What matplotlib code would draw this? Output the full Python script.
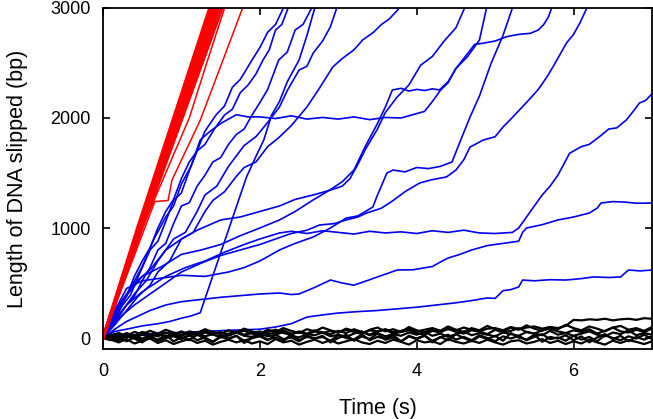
import numpy as np
import matplotlib
matplotlib.use("Agg")
import matplotlib.pyplot as plt

plt.rcParams['font.family'] = ['Liberation Sans', 'DejaVu Sans']

# --- data (time in s, length in bp) ---
# thick red bundle: time at which each trace reaches 0, 1000, 2000, 3000 bp
red_levels = [0, 1000, 2000, 3000]
red_times = [
    [0, 0.44, 0.90, 1.36],
    [0, 0.45, 0.92, 1.38],
    [0, 0.46, 0.93, 1.40],
    [0, 0.47, 0.95, 1.42],
    [0, 0.48, 0.97, 1.45],
    [0, 0.49, 0.99, 1.48],
    [0, 0.50, 1.01, 1.52],
]
red_thin = [
    ([0, 0.5, 1.1, 1.3, 1.55], [0, 1000, 2000, 2450, 3000]),
    ([0, 0.66, 0.83, 0.88, 1.24, 1.53, 1.78], [0, 1240, 1250, 1436, 1980, 2527, 3000]),
]

blue_traces = {
    "a0": ([0, 0.1, 0.2, 0.3, 0.4, 0.5, 0.6, 0.7, 0.8, 0.9, 1.0, 1.1, 1.2, 1.3, 1.44,
            1.55, 1.65, 1.75, 1.9, 2.0, 2.1, 2.2, 2.3],
           [0, 130, 280, 380, 560, 700, 820, 1000, 1150, 1260, 1450, 1600, 1700, 1880,
            2027, 2110, 2280, 2350, 2527, 2640, 2780, 2850, 3000]),
    "a": ([0, 0.1, 0.25, 0.35, 0.45, 0.6, 0.7, 0.8, 0.9, 1.0, 1.1, 1.2, 1.3, 1.42, 1.55,
           1.65, 1.75, 1.85, 1.95, 2.04, 2.12, 2.2, 2.28, 2.36],
          [0, 110, 300, 390, 560, 800, 880, 1060, 1250, 1320, 1520, 1700, 1760, 1900,
           2027, 2080, 2230, 2300, 2400, 2527, 2620, 2800, 2850, 3000]),
    "b": ([0, 0.15, 0.3, 0.4, 0.5, 0.6, 0.7, 0.8, 0.9, 1.0, 1.1, 1.2, 1.3, 1.4, 1.5, 1.6,
           1.7, 1.8, 1.9, 2.0, 2.1, 2.24, 2.35, 2.45, 2.55, 2.66],
          [0, 140, 300, 380, 520, 640, 800, 860, 1040, 1200, 1230, 1380, 1480, 1600, 1640,
           1760, 1850, 1900, 2027, 2140, 2260, 2527, 2600, 2800, 2850, 3000]),
    "c": ([0, 0.15, 0.3, 0.5, 0.7, 0.85, 1.0, 1.12, 1.24, 1.83, 1.95, 2.05, 2.15, 2.25,
           2.35, 2.5, 2.6, 2.7],
          [0, 60, 80, 110, 130, 150, 180, 200, 230, 1464, 1650, 1800, 2027, 2150, 2330,
           2527, 2750, 3000]),
    "d": ([0, 0.15, 0.3, 0.4, 0.55, 0.7, 0.9, 1.05, 1.2, 1.3, 1.45, 1.6, 1.8, 1.95, 2.1,
           2.25, 2.35, 2.5, 2.6, 2.68, 2.8, 2.9, 2.98],
          [0, 170, 300, 400, 520, 700, 900, 960, 1150, 1300, 1380, 1560, 1750, 1830, 1960,
           2100, 2250, 2436, 2470, 2590, 2700, 2830, 3000]),
    "e": ([0, 0.15, 0.3, 0.45, 0.6, 0.7, 0.85, 1.0, 1.15, 1.3, 1.4, 1.55, 1.7, 1.8, 1.95,
           2.1, 2.25, 2.4, 2.6, 2.75, 2.93, 3.05, 3.2, 3.31, 3.45, 3.55, 3.65, 3.78],
          [0, 120, 250, 380, 480, 600, 700, 900, 960, 1150, 1250, 1330, 1470, 1550, 1600,
           1740, 1827, 1930, 2100, 2260, 2464, 2540, 2620, 2709, 2780, 2850, 2900, 3000]),
    "f": ([0, 0.1, 0.2, 0.35, 0.5, 0.65, 0.8, 0.9, 1.0, 1.12, 1.24, 1.35, 1.5, 1.6, 1.7,
           1.85, 2.0, 2.2, 2.4, 2.6, 2.8, 3.0, 3.2, 3.4, 3.6, 3.8, 3.9, 4.0, 4.1, 4.2, 4.3,
           4.4, 4.5, 4.62, 4.74, 4.85, 5.0, 5.15, 5.3, 5.45, 5.55, 5.62, 5.68, 5.72],
          [0, 120, 250, 450, 650, 900, 1100, 1200, 1400, 1560, 1800, 1870, 1950, 1990,
           2030, 2010, 2010, 1995, 2020, 1990, 2005, 1990, 2010, 1985, 2005, 2000, 2020,
           2040, 2060, 2150, 2250, 2320, 2450, 2560, 2670, 2680, 2700, 2740, 2760, 2770,
           2800, 2850, 2920, 3000]),
    "g": ([0, 0.15, 0.3, 0.5, 0.8, 1.0, 1.3, 1.6, 1.8, 2.0, 2.25, 2.45, 2.68, 2.9, 3.1,
           3.25, 3.44, 3.5, 3.62, 3.7, 3.85, 4.0, 4.15, 4.3, 4.45, 4.55, 4.68, 4.8, 4.95,
           5.1, 5.22],
          [0, 250, 450, 520, 550, 570, 560, 600, 640, 700, 800, 860, 918, 1000, 1090,
           1110, 1190, 1300, 1500, 1527, 1510, 1550, 1540, 1560, 1600, 1780, 2009, 2200,
           2500, 2750, 3000]),
    "h": ([0, 0.15, 0.4, 0.6, 0.8, 1.0, 1.2, 1.5, 1.75, 2.0, 2.25, 2.45, 2.68, 2.9, 3.05,
           3.15, 3.25, 3.35, 3.5, 3.6, 3.75, 3.9, 4.05, 4.2, 4.35, 4.5, 4.61],
          [0, 250, 500, 620, 800, 900, 980, 1073, 1100, 1150, 1200, 1260, 1300, 1345,
           1380, 1450, 1580, 1720, 1900, 2050, 2190, 2300, 2480, 2560, 2700, 2820, 3000]),
    "k": ([0, 0.2, 0.5, 0.75, 1.0, 1.25, 1.5, 1.75, 2.0, 2.25, 2.45, 2.68, 2.89, 3.05,
           3.2, 3.35, 3.5, 3.6, 3.69, 3.8, 3.9, 4.0, 4.1, 4.2, 4.29, 4.4, 4.5, 4.65, 4.8,
           4.89],
          [0, 300, 560, 650, 760, 800, 850, 930, 1000, 1073, 1150, 1255, 1345, 1420, 1527,
           1750, 1950, 2100, 2255, 2270, 2245, 2260, 2250, 2265, 2255, 2330, 2450, 2560,
           2709, 3000]),
    "r6": ([0, 0.2, 0.4, 0.7, 1.0, 1.25, 1.5, 1.75, 2.0, 2.2, 2.4, 2.6, 2.76, 2.95, 3.1,
            3.25, 3.36, 3.55, 3.7, 3.85, 4.04, 4.2, 4.38, 4.5, 4.6, 4.68, 4.85, 5.0, 5.1,
            5.2, 5.31, 5.45, 5.55, 5.66, 5.75, 5.91, 6.0, 6.08, 6.17],
           [0, 180, 300, 450, 600, 680, 750, 800, 850, 900, 950, 980, 1027, 1040, 1073,
            1100, 1136, 1180, 1250, 1330, 1410, 1440, 1464, 1527, 1620, 1736, 1800, 1830,
            1918, 1990, 2073, 2180, 2260, 2373, 2480, 2682, 2760, 2864, 3000]),
    "end2250": ([0, 0.15, 0.3, 0.5, 0.8, 1.05, 1.3, 1.55, 1.8, 2.0, 2.25, 2.4, 2.6, 2.8,
                 3.0, 3.2, 3.4, 3.6, 3.8, 4.0, 4.2, 4.4, 4.6, 4.8, 5.0, 5.22, 5.3, 5.4,
                 5.5, 5.6, 5.7, 5.8, 5.95, 6.1, 6.2, 6.33, 6.45, 6.55, 6.67, 6.76, 6.84,
                 6.92, 7.0],
                [0, 150, 300, 420, 560, 640, 700, 780, 850, 900, 955, 970, 950, 975, 960,
                 945, 970, 955, 965, 950, 975, 960, 980, 955, 950, 960, 1000, 1100, 1200,
                 1300, 1380, 1480, 1680, 1740, 1760, 1830, 1900, 1910, 1980, 2060, 2136,
                 2160, 2220]),
    "end1210": ([0, 0.15, 0.3, 0.45, 0.6, 0.8, 1.0, 1.25, 1.5, 1.75, 2.0, 2.25, 2.4, 2.5,
                 2.7, 2.9, 3.05, 3.2, 3.4, 3.6, 3.75, 3.95, 4.2, 4.3, 4.4, 4.55, 4.7, 4.8,
                 4.9, 5.1, 5.3, 5.35, 5.4, 5.6, 5.8, 6.0, 6.2, 6.3, 6.35, 6.5, 6.65, 6.8,
                 7.0],
                [0, 80, 150, 200, 250, 300, 330, 350, 370, 385, 400, 409, 395, 400, 460,
                 527, 500, 480, 530, 580, 618, 620, 650, 690, 727, 760, 800, 820, 840, 860,
                 880, 960, 1000, 1030, 1073, 1100, 1136, 1180, 1227, 1240, 1236, 1225,
                 1227]),
    "end600": ([0, 0.25, 0.5, 0.75, 1.0, 1.3, 1.6, 2.0, 2.2, 2.4, 2.5, 2.6, 2.8, 3.0, 3.25,
                3.5, 3.75, 4.0, 4.25, 4.5, 4.7, 4.9, 5.0, 5.1, 5.2, 5.3, 5.35, 5.5, 5.7,
                5.9, 6.1, 6.25, 6.45, 6.6, 6.7, 6.85, 7.0],
               [0, 20, 30, 45, 50, 60, 70, 80, 100, 130, 160, 190, 210, 227, 240, 250, 265,
                280, 300, 320, 340, 364, 360, 430, 440, 464, 527, 520, 530, 527, 540, 555,
                550, 555, 618, 610, 618]),
}

# black traces (no slipping), sampled every 0.1 s from 0 to 7 s
t_black = np.linspace(0, 7, 71)
black_1 = [0, 15, -10, 25, 5, 30, 10, 35, 15, 40,
           20, 45, 25, 50, 30, 15, 40, 55, 30, 45,
           60, 35, 50, 70, 40, 55, 30, 60, 45, 65,
           50, 75, 55, 40, 70, 60, 80, 55, 65, 85,
           60, 75, 90, 65, 80, 70, 95, 75, 60, 85,
           90, 70, 100, 80, 95, 105, 85, 100, 90, 110,
           165, 160, 170, 165, 175, 160, 170, 175, 165, 180, 175]
black_2 = [0, -20, 10, -30, 5, -15, 20, -25, 0, 15,
           -10, 25, -20, 5, -35, 10, -5, 20, -25, 0,
           15, -20, 30, -10, 5, -30, 20, -5, 10, -25,
           25, 0, -15, 35, -20, 10, -5, 25, -30, 15,
           -10, 20, -25, 5, 30, -15, 10, -20, 25, 0,
           -30, 15, -5, 20, -20, 10, 35, -10, 5, -25,
           20, -15, 10, -30, 25, 0, -20, 15, -5, 30, -10]
black_3 = [0, 30, 10, 45, 20, 55, 35, 15, 50, 30,
           60, 25, 45, 70, 35, 55, 20, 50, 65, 40,
           25, 55, 75, 45, 30, 60, 40, 70, 50, 35,
           65, 45, 80, 55, 30, 60, 75, 40, 55, 70,
           45, 30, 65, 50, 85, 55, 40, 70, 60, 35,
           75, 50, 65, 90, 55, 40, 70, 85, 60, 45,
           70, 55, 80, 40, 65, 95, 60, 50, 75, 55, 85]
black_4 = [0, -15, -40, -10, -50, -25, -5, -45, -20, -55,
           -30, -10, -45, -25, -60, -35, -15, -40, -20, -50,
           -30, -55, -10, -40, -25, -60, -35, -15, -45, -20,
           -50, -30, -10, -40, -55, -25, -45, -15, -35, -60,
           -20, -40, -30, -55, -10, -35, -50, -25, -45, -15,
           -40, -60, -30, -20, -50, -35, -10, -45, -25, -55,
           -30, -50, -15, -40, -60, -25, -45, -20, -35, -55, -30]
black_5 = [0, 10, 30, 5, 25, -5, 20, 40, 10, 30,
           0, 20, 45, 15, 35, 5, 25, 50, 20, 10,
           40, 15, 30, 55, 20, 5, 35, 25, 50, 15,
           30, 10, 40, 60, 25, 45, 15, 35, 20, 50,
           30, 55, 20, 40, 10, 35, 60, 25, 45, 30,
           15, 50, 35, 20, 55, 40, 25, 65, 30, 45,
           20, 40, 60, 30, 15, 50, 35, 70, 25, 45, 30]
black_6 = [0, 25, 45, 20, 55, 35, 65, 40, 75, 50,
           30, 60, 45, 80, 55, 35, 70, 50, 85, 60,
           40, 75, 55, 90, 65, 45, 80, 60, 95, 70,
           50, 85, 65, 40, 75, 95, 60, 80, 55, 100,
           70, 50, 85, 65, 105, 75, 55, 90, 70, 110,
           80, 60, 95, 75, 115, 85, 65, 100, 80, 120,
           90, 70, 105, 85, 60, 95, 110, 75, 90, 65, 100]
black_7 = [0, 5, -25, 15, -5, -40, 10, -15, 25, -30,
           5, -20, 30, -5, -35, 15, -10, 20, -45, 0,
           25, -15, 5, -30, 35, -20, 10, -5, 20, -40,
           0, 30, -25, 15, -10, 40, -15, 5, -35, 20,
           -5, 25, -40, 10, -20, 35, 0, -30, 15, -10,
           20, -25, 45, 5, -15, 30, -35, 10, -5, 25,
           -20, 15, -40, 5, 35, -10, 20, -30, 10, -15, 15]
black_traces = [black_1, black_2, black_3, black_4, black_5, black_6, black_7]


fig = plt.figure(figsize=(6.53, 4.19), dpi=100)
ax = fig.add_axes([103 / 653, 70 / 419, 549 / 653, 341 / 419])

for t, y in blue_traces.values():
    ax.plot(t, y, color='#0000ee', lw=1.2)
for y in black_traces:
    ax.plot(t_black, y, color='black', lw=1.6)
for t, y in red_thin:
    ax.plot(t, y, color='#ff0000', lw=1.1)
for t in red_times:
    ax.plot(t, red_levels, color='#ff0000', lw=2.2)

ax.set_xlim(0, 7)
ax.set_ylim(-100, 3000)
ax.set_xticks([0, 2, 4, 6])
ax.set_yticks([0, 1000, 2000, 3000])
ax.tick_params(direction='in', length=5, width=1.2, top=True, right=True,
               labelsize=13)
ax.tick_params(axis='x', pad=10)
ax.tick_params(axis='y', pad=9)
for s in ax.spines.values():
    s.set_linewidth(1.3)
ax.set_xlabel("Time (s)", fontsize=15.5, labelpad=13)
ax.set_ylabel("Length of DNA slipped (bp)", fontsize=15.5, labelpad=16)

fig.savefig("out.png", dpi=100)
